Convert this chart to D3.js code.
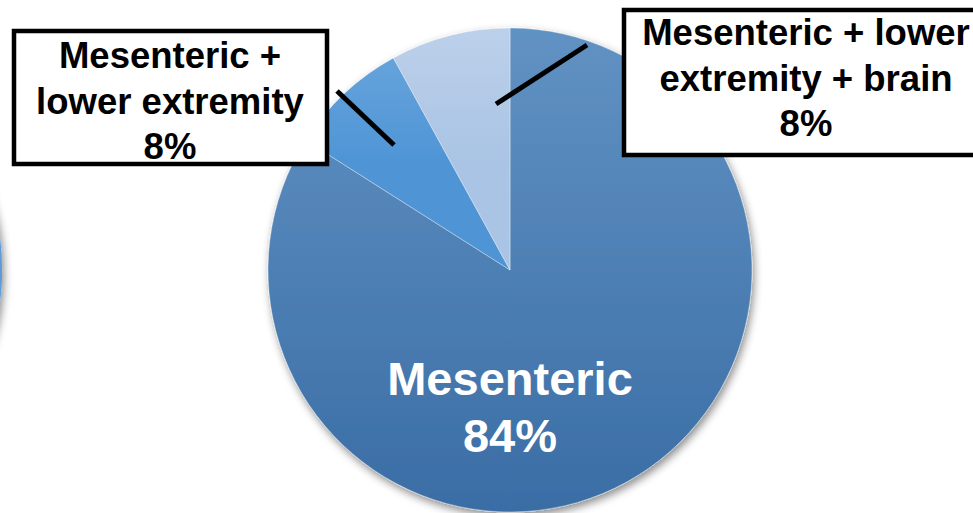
<!DOCTYPE html>
<html>
<head>
<meta charset="utf-8">
<script src="https://cdn.jsdelivr.net/npm/d3@7"></script>
<style>
  html, body { margin: 0; padding: 0; background: #ffffff; overflow: hidden; }
  svg { display: block; font-family: "Liberation Sans", Arial, sans-serif; }
</style>
</head>
<body>
<svg id="chart" width="973" height="513"></svg>
<script>
// Sites of thrombosis (share of patients)
const categories = ["Mesenteric", "Mesenteric + lower extremity", "Mesenteric + lower extremity + brain"];
const percents = [84, 8, 8];
const labelLines = [
  ["Mesenteric", "84%"],
  ["Mesenteric +", "lower extremity", "8%"],
  ["Mesenteric + lower", "extremity + brain", "8%"]
];
const sliceColors = [
  ["#6192c3", "#3a6da5"],
  ["#6ca7dd", "#4f95d6"],
  ["#bcd0ea", "#aac4e5"]
];

const svg = d3.select("#chart");
const cx = 510, cy = 270, R = 242;

const defs = svg.append("defs");
const shadow = defs.append("filter").attr("id", "shadow")
  .attr("x", "-20%").attr("y", "-20%").attr("width", "140%").attr("height", "140%");
shadow.append("feDropShadow")
  .attr("dx", 2).attr("dy", 4).attr("stdDeviation", 4)
  .attr("flood-color", "#000").attr("flood-opacity", 0.45);

// Vertical gradients, in pie-local coordinates
sliceColors.forEach((c, i) => {
  const g = defs.append("linearGradient").attr("id", "grad" + i)
    .attr("gradientUnits", "userSpaceOnUse")
    .attr("x1", 0).attr("x2", 0)
    .attr("y1", -R)
    .attr("y2", i === 0 ? R : -R * 0.45);
  g.append("stop").attr("offset", "0%").attr("stop-color", c[0]);
  g.append("stop").attr("offset", "100%").attr("stop-color", c[1]);
});

// Neighbouring pie, mostly outside the frame on the left
const arcFull = d3.arc().innerRadius(0).outerRadius(R);
svg.append("path")
  .attr("transform", `translate(${-R + 2},${cy})`)
  .attr("d", arcFull({ startAngle: 0, endAngle: 2 * Math.PI }))
  .attr("fill", "#5b9bd5")
  .attr("filter", "url(#shadow)");

// Main pie
const pie = d3.pie().sort(null).value(d => d)
  .startAngle(0).endAngle(2 * Math.PI);
const arcs = pie(percents);
const arc = d3.arc().innerRadius(0).outerRadius(R);

const pieG = svg.append("g").attr("transform", `translate(${cx},${cy})`);
pieG.append("g").attr("filter", "url(#shadow)")
  .selectAll("path").data(arcs).join("path")
  .attr("d", arc)
  .attr("fill", (d, i) => `url(#grad${i})`)
  .attr("stroke", "rgba(255,255,255,0.35)")
  .attr("stroke-width", 1);

// Inner label for the large slice
const inner = pieG.append("text")
  .attr("text-anchor", "middle")
  .attr("fill", "#ffffff")
  .attr("font-weight", "bold")
  .attr("font-size", 47);
labelLines[0].forEach((t, k) => {
  inner.append("tspan").attr("x", 0).attr("y", 125 + k * 57)
    .text(k === 1 ? percents[0] + "%" : t);
});

// Leader lines from the small slices to their boxed labels
const leaders = [
  null,
  { x1: 337, y1: 91, x2: 394, y2: 145 },
  { x1: 496, y1: 104, x2: 587, y2: 45 }
];
leaders.forEach(l => {
  if (!l) return;
  svg.append("line")
    .attr("x1", l.x1).attr("y1", l.y1).attr("x2", l.x2).attr("y2", l.y2)
    .attr("stroke", "#000").attr("stroke-width", 5);
});

// Boxed labels
const boxes = [
  null,
  { x: 14, y: 31, w: 313, h: 133, tx: 170, ty: 68 },
  { x: 624, y: 10, w: 370, h: 145, tx: 806, ty: 45 }
];
boxes.forEach((b, i) => {
  if (!b) return;
  svg.append("rect")
    .attr("x", b.x).attr("y", b.y).attr("width", b.w).attr("height", b.h)
    .attr("fill", "#ffffff").attr("stroke", "#000").attr("stroke-width", 4.5);
  const t = svg.append("text")
    .attr("text-anchor", "middle")
    .attr("font-weight", "bold")
    .attr("font-size", 36.5)
    .attr("fill", "#000");
  labelLines[i].forEach((s, k) => {
    const last = k === labelLines[i].length - 1;
    t.append("tspan").attr("x", b.tx).attr("y", b.ty + k * 45.5)
      .text(last ? percents[i] + "%" : s);
  });
});
</script>
</body>
</html>
